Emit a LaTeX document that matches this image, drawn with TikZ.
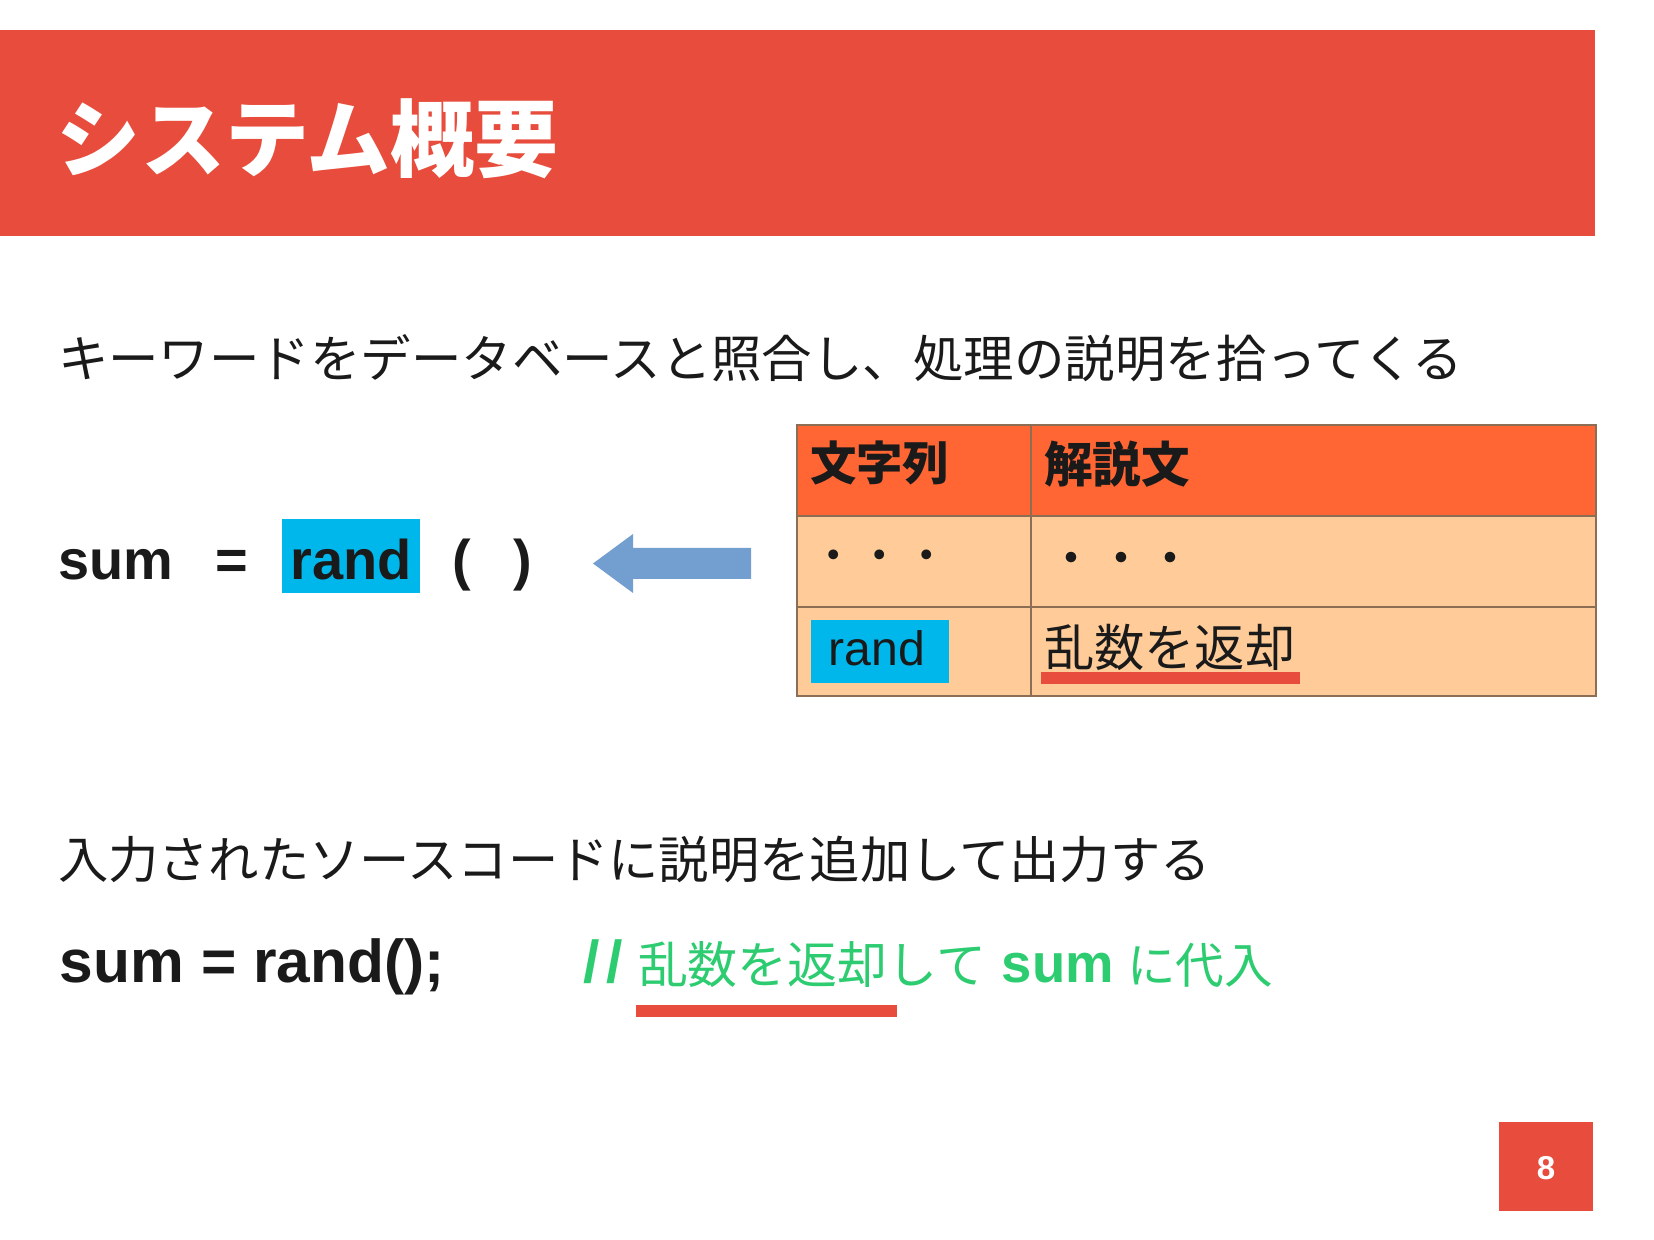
\documentclass[tikz,border=0pt]{standalone}
\usepackage{fontspec}
\setmainfont{Liberation Sans}
\newfontfamily\jp{Noto Sans CJK JP}
\definecolor{titlered}{HTML}{E74C3C}
\definecolor{hdr}{HTML}{FF6633}
\definecolor{cellbg}{HTML}{FFCC99}
\definecolor{gridc}{HTML}{8C6E55}
\definecolor{hl}{HTML}{00B7EB}
\definecolor{arrowblue}{HTML}{729FCF}
\definecolor{cmtgreen}{HTML}{2ECC71}
\definecolor{ink}{HTML}{1A1A1A}
\begin{document}
\begin{tikzpicture}[x=0.01cm,y=-0.01cm,
  txt/.style={inner sep=0pt,outer sep=0pt,text=ink},
  jpr/.style={font=\jp\fontsize{#1}{#1}\selectfont},
  jpb/.style={font=\jp\bfseries\fontsize{#1}{#1}\selectfont},
  lat/.style={font=\fontsize{#1}{#1}\selectfont},
  latb/.style={font=\bfseries\fontsize{#1}{#1}\selectfont},
  uline/.style={fill=titlered},
  gridline/.style={draw=gridc,line width=0.45pt}]
\useasboundingbox (0,0) rectangle (1654,1240);
% title bar
\fill[titlered] (0,30) rectangle (1595,236);
\node[txt,text=white,anchor=base west,jpb=23.9pt] (title) at (57,171) {システム概要};
% line 1
\node[txt,anchor=base west,jpr=14.35pt] (line1) at (58,378) {キーワードをデータベースと照合し、処理の説明を拾ってくる};
% sum = rand ( )
\node[txt,anchor=base,latb=15.9pt] (sum1) at (116,580) {sum};
\node[txt,anchor=base,latb=15.9pt] (eq1) at (232,580) {=};
\fill[hl] (282,519) rectangle (420,593);
\node[txt,anchor=base,latb=15.9pt] (rand1) at (351,580) {rand};
\node[txt,anchor=base,latb=15.9pt] (lp) at (462,580) {(};
\node[txt,anchor=base,latb=15.9pt] (rp) at (523,580) {)};
% block arrow
\fill[arrowblue] (593,563.5) -- (633,534) -- (633,548) -- (751,548) -- (751,579) -- (633,579) -- (633,593) -- cycle;
% table
\fill[hdr] (797,425) rectangle (1596,516);
\fill[cellbg] (797,516) rectangle (1596,696);
\draw[gridline] (797,425) rectangle (1596,696);
\draw[gridline] (797,516) -- (1596,516);
\draw[gridline] (797,607) -- (1596,607);
\draw[gridline] (1031,425) -- (1031,696);
\node[txt,anchor=base west,jpb=13.2pt] (h1) at (810,481) {文字列};
\node[txt,anchor=base west,jpb=13.8pt] (h2) at (1044,483) {解説文};
\node[txt,anchor=base,jpr=13.2pt] (d1) at (880,573) {・・・};
\node[txt,anchor=base,jpr=14.2pt] (d2) at (1121,577) {・・・};
\fill[hl] (811,620) rectangle (949,683);
\node[txt,anchor=base,lat=13.7pt] (rand2) at (877,666) {rand};
\node[txt,anchor=base west,jpr=14.3pt] (desc) at (1044,667) {乱数を返却};
\fill[uline] (1041,672) rectangle (1300,684);
% line 2
\node[txt,anchor=base west,jpr=14.3pt] (line2) at (58,879) {入力されたソースコードに説明を追加して出力する};
% output code
\node[txt,anchor=base west,latb=17.2pt] (code) at (60,982) {sum = rand();};
\node[txt,anchor=base,text=cmtgreen,latb=16.8pt] (slash) at (603,982) {/\kern2pt/};
\node[txt,anchor=base west,text=cmtgreen,jpr=14.2pt] (cmt1) at (638,984) {乱数を返却して};
\node[txt,anchor=base,text=cmtgreen,latb=15.5pt] (sum2) at (1058,982) {sum};
\node[txt,anchor=base west,text=cmtgreen,jpr=13.8pt] (cmt2) at (1127,984) {に代入};
\fill[uline] (636,1005) rectangle (897,1017);
% page number
\fill[titlered] (1499,1122) rectangle (1593,1211);
\node[txt,text=white,latb=9.4pt] (pg) at (1546,1168) {8};
\end{tikzpicture}
\end{document}
